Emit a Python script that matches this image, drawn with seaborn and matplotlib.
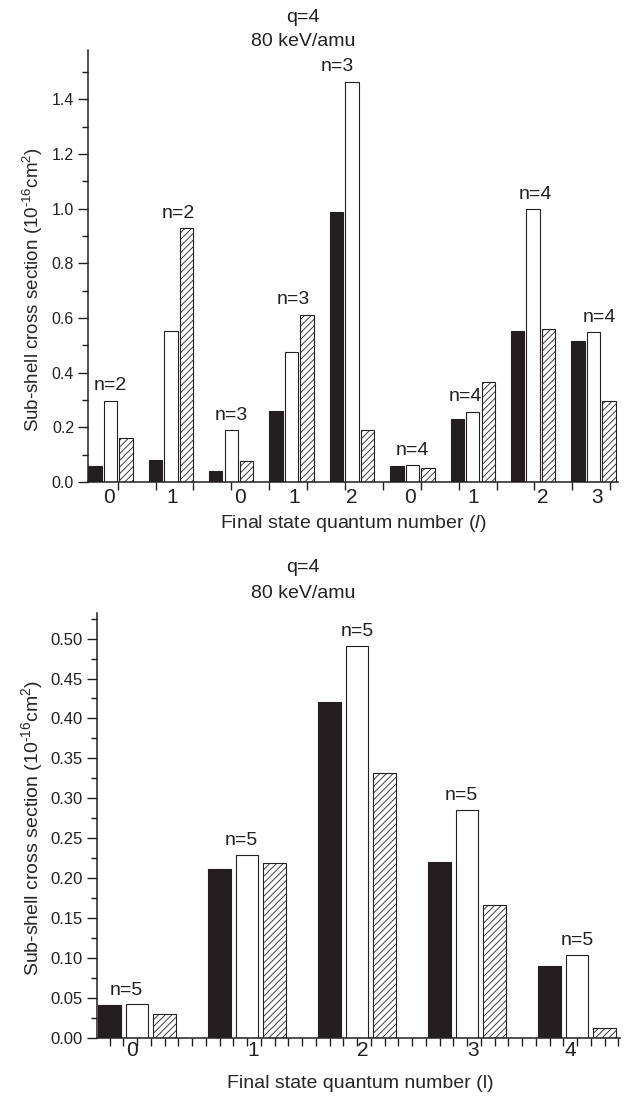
import numpy as np
import pandas as pd
import matplotlib
matplotlib.use('Agg')
import matplotlib.pyplot as plt
from matplotlib.ticker import MultipleLocator, FormatStrFormatter
import seaborn as sns

# upper panel: final n = 2, 3, 4
top_l = ['0', '1', '0', '1', '2', '0', '1', '2', '3']
top_n = [2, 2, 3, 3, 3, 4, 4, 4, 4]
top_black = [0.057, 0.079, 0.042, 0.258, 0.987, 0.057, 0.230, 0.553, 0.514]
top_white = [0.298, 0.553, 0.190, 0.477, 1.464, 0.062, 0.257, 0.998, 0.548]
top_hatch = [0.160, 0.928, 0.077, 0.612, 0.191, 0.052, 0.365, 0.560, 0.297]

# lower panel: final n = 5
bot_l = ['0', '1', '2', '3', '4']
bot_n = [5, 5, 5, 5, 5]
bot_black = [0.041, 0.211, 0.421, 0.220, 0.090]
bot_white = [0.042, 0.229, 0.491, 0.285, 0.104]
bot_hatch = [0.030, 0.219, 0.332, 0.166, 0.012]

kinds = ['black', 'white', 'hatch']

sns.set_theme(style='ticks')
ink = '#231f20'
plt.rcParams['font.family'] = ['Liberation Sans', 'DejaVu Sans']
plt.rcParams['mathtext.fontset'] = 'custom'
plt.rcParams['mathtext.rm'] = 'Liberation Sans'
plt.rcParams['mathtext.it'] = 'Liberation Sans:italic'
plt.rcParams['hatch.linewidth'] = 0.6
plt.rcParams['hatch.color'] = ink
plt.rcParams['text.color'] = ink

ylab = r'Sub-shell cross section (10$^{\text{-16}}$cm$^{2}$)'


def long_df(black, white, hatch):
    k = len(black)
    return pd.DataFrame({'grp': list(range(k)) * 3,
                         'val': black + white + hatch,
                         'kind': ['black'] * k + ['white'] * k + ['hatch'] * k})


def draw(ax, df, width, gap):
    sns.barplot(data=df, x='grp', y='val', hue='kind', hue_order=kinds,
                palette=[ink, 'white', 'white'], width=width, gap=gap,
                errorbar=None, legend=False, ax=ax,
                edgecolor=ink, linewidth=0.8, saturation=1)
    for cont, fc, h in zip(ax.containers, [ink, 'white', 'white'], [None, None, '/////']):
        for p in cont:
            p.set_facecolor(fc)
            p.set_edgecolor(ink)
            p.set_hatch(h)
    sns.despine(ax=ax)
    for s in ['left', 'bottom']:
        ax.spines[s].set_linewidth(1.1)
        ax.spines[s].set_color(ink)
    ax.xaxis.remove_overlapping_locs = False
    ax.tick_params(axis='y', which='major', direction='out', length=7, width=1, colors=ink, pad=3)
    ax.tick_params(axis='y', which='minor', direction='out', length=4, width=1, colors=ink)
    ax.tick_params(axis='x', which='major', direction='out', length=6, width=1, colors=ink, labelbottom=False)
    ax.tick_params(axis='x', which='minor', length=0, colors=ink)


fig = plt.figure(figsize=(6.24, 10.97), dpi=100)

# ---- upper panel
ax1 = fig.add_axes([88 / 624, 1 - 482 / 1097, 530 / 624, 432 / 1097])
draw(ax1, long_df(top_black, top_white, top_hatch), 0.77, 0.14)
ax1.set_xlim(-0.372, 8.405)
ax1.set_ylim(0, 1.58)
ax1.yaxis.set_major_locator(MultipleLocator(0.2))
ax1.yaxis.set_minor_locator(MultipleLocator(0.1))
ax1.yaxis.set_major_formatter(FormatStrFormatter('%.1f'))
ax1.tick_params(axis='y', labelsize=11.5)
ax1.set_xticks(np.arange(0.119, 8.41, 0.6275))
ax1.set_xticklabels([])
top_dx = [-0.02, 0.03, 0.14, 0.05, 0.0, -0.04, 0.0, 0.16, 0.05]
ax1.set_xticks(np.arange(len(top_l)) + np.array(top_dx), labels=top_l, minor=True)
ax1.tick_params(axis='x', which='minor', labelsize=15, pad=4)
ax1.set_xlabel(r'Final state quantum number ($\it{l}$)', fontsize=14)
ax1.xaxis.set_label_coords(0.5, -0.072)
ax1.set_ylabel(ylab, fontsize=13.5)
ax1.yaxis.set_label_coords(-0.082, 0.445)

n_dx = [0.0, 0.12, 0.0, 0.03, -0.25, 0.0, -0.12, 0.03, 0.09]
for i, n in enumerate(top_n):
    top = max(top_black[i], top_white[i], top_hatch[i])
    if i == 6:
        top = top_white[i]
    ax1.text(i + n_dx[i], top + 0.055, f'n={n}', ha='center', va='center', fontsize=14)

# ---- lower panel
ax2 = fig.add_axes([97 / 624, 1 - 1038 / 1097, 523 / 624, 425 / 1097])
draw(ax2, long_df(bot_black, bot_white, bot_hatch), 0.75, 0.18)
ax2.set_xlim(-0.364, 4.39)
ax2.set_ylim(0, 0.532)
ax2.yaxis.set_major_locator(MultipleLocator(0.05))
ax2.yaxis.set_minor_locator(MultipleLocator(0.025))
ax2.yaxis.set_major_formatter(FormatStrFormatter('%.2f'))
ax2.tick_params(axis='y', labelsize=12)
ax2.set_xticks(np.arange(-0.25, 4.39, 0.125))
ax2.set_xticklabels([])
bot_dx = [-0.045, 0.055, 0.055, 0.055, -0.065]
ax2.set_xticks(np.arange(len(bot_l)) + np.array(bot_dx), labels=bot_l, minor=True)
ax2.tick_params(axis='x', which='minor', labelsize=15, pad=2)
ax2.set_xlabel('Final state quantum number (l)', fontsize=14)
ax2.xaxis.set_label_coords(0.503, -0.088)
ax2.set_ylabel(ylab, fontsize=14)
ax2.yaxis.set_label_coords(-0.1, 0.494)

b_dx = [-0.1, -0.05, 0.0, -0.05, 0.0]
for i, n in enumerate(bot_n):
    ax2.text(i + b_dx[i], bot_white[i] + 0.018, f'n={n}', ha='center', va='center', fontsize=14)

# titles
for y0 in [17, 568]:
    fig.text(303 / 624, 1 - y0 / 1097, 'q=4', ha='center', va='center', fontsize=14)
    fig.text(303 / 624, 1 - (y0 + 25) / 1097, '80 keV/amu', ha='center', va='center', fontsize=14)

fig.savefig('out.png', dpi=100)
